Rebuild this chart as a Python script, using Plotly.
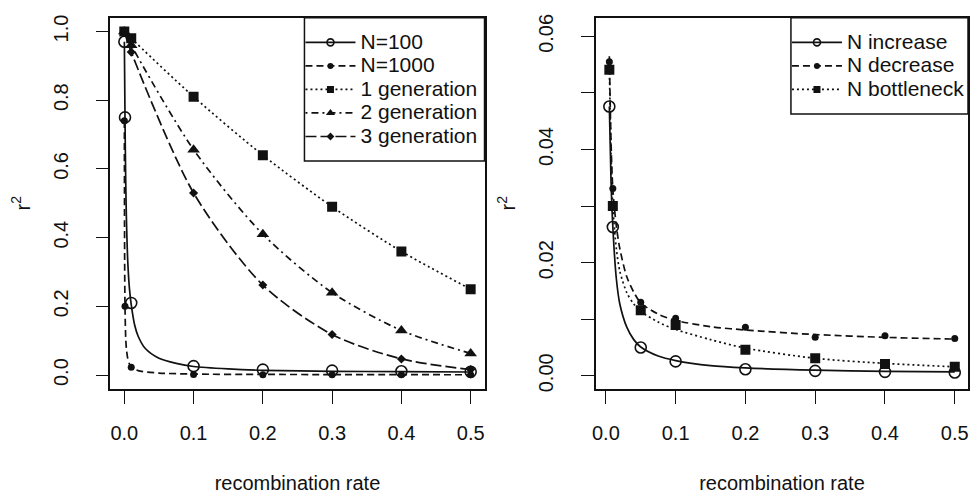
import plotly.graph_objects as go

# ---------------- left panel data ----------------
n_x = [0.0001, 0.001, 0.01, 0.1, 0.2, 0.3, 0.4, 0.5]
n100_y = [0.97, 0.75, 0.21, 0.026, 0.016, 0.013, 0.011, 0.0095]
n1000_y = [0.74, 0.20, 0.023, 0.002, 0.001, 0.001, 0.001, 0.001]

n100_curve_x = [0.0001, 0.001, 0.002, 0.003, 0.005, 0.0075, 0.01, 0.015, 0.02, 0.03,
                0.05, 0.075, 0.1, 0.15, 0.2, 0.3, 0.4, 0.5]
n100_curve_y = [0.97, 0.75, 0.57, 0.46, 0.33, 0.25, 0.205, 0.145, 0.113, 0.078,
                0.049, 0.034, 0.025, 0.018, 0.014, 0.011, 0.010, 0.009]
n1000_curve_x = [0.0001, 0.0005, 0.001, 0.002, 0.003, 0.005, 0.0075, 0.01, 0.02,
                 0.05, 0.1, 0.2, 0.3, 0.4, 0.5]
n1000_curve_y = [0.74, 0.33, 0.20, 0.11, 0.077, 0.048, 0.032, 0.024, 0.013,
                 0.006, 0.003, 0.002, 0.0015, 0.0012, 0.001]

gen_x = [0, 0.01, 0.1, 0.2, 0.3, 0.4, 0.5]
gen1_y = [1.0, 0.98, 0.81, 0.64, 0.49, 0.36, 0.25]
gen2_y = [1.0, 0.96, 0.656, 0.41, 0.24, 0.13, 0.063]
gen3_y = [1.0, 0.94, 0.53, 0.262, 0.118, 0.047, 0.016]

left_names = ["N=100", "N=1000", "1 generation", "2 generation", "3 generation"]
left_yticks = [0.0, 0.2, 0.4, 0.6, 0.8, 1.0]
x_ticks = [0.0, 0.1, 0.2, 0.3, 0.4, 0.5]

# ---------------- right panel data ----------------
r_x = [0.005, 0.01, 0.05, 0.1, 0.2, 0.3, 0.4, 0.5]
inc_y = [0.0476, 0.0263, 0.0050, 0.00255, 0.00116, 0.00087, 0.0007, 0.00058]
dec_y = [0.0555, 0.0331, 0.0130, 0.0102, 0.0086, 0.0068, 0.0071, 0.0066]
bot_y = [0.0541, 0.0300, 0.0116, 0.0090, 0.0046, 0.0031, 0.0021, 0.0016]

r_curve_x = [0.005, 0.0075, 0.01, 0.015, 0.02, 0.03, 0.04, 0.05, 0.075, 0.1,
             0.15, 0.2, 0.3, 0.4, 0.5]
inc_curve_y = [0.0476, 0.034, 0.0263, 0.0172, 0.0127, 0.0086, 0.0064, 0.0051, 0.0035, 0.0027,
               0.0018, 0.0014, 0.0010, 0.0008, 0.0007]
dec_curve_y = [0.0565, 0.041, 0.033, 0.0265, 0.0225, 0.0175, 0.0148, 0.0129, 0.0109, 0.0098,
               0.0087, 0.0081, 0.0073, 0.0068, 0.0065]
bot_curve_y = [0.0545, 0.039, 0.030, 0.0225, 0.0185, 0.0147, 0.0127, 0.0114, 0.0095, 0.0082,
               0.0064, 0.0049, 0.0031, 0.0022, 0.0016]

right_names = ["N increase", "N decrease", "N bottleneck"]
right_minor_dtick = 0.01

x_title = "recombination rate"
y_title = "r<sup>2</sup>"

# ---------------- styles ----------------
W, H = 973, 494


def px_x(p):
    return p / W


def px_y(p):
    return 1 - p / H


FONT = "Liberation Sans, Arial, Helvetica, sans-serif"
FS = 20
LEG_FS = 15.8
LW = 1.7
BLACK = "#111111"

DASH_SOLID = "solid"
DASH_DASHED = "7px,4px"
DASH_DOTTED = "2px,3px"
DASH_DOTDASH = "2px,4px,7px,4px"
DASH_LONG = "11px,4px"

MK_OPEN_CIRCLE = dict(symbol="circle-open", size=11, color=BLACK, line=dict(width=1.6, color=BLACK))
MK_DOT = dict(symbol="circle", size=7, color=BLACK)
MK_SQUARE = dict(symbol="square", size=10, color=BLACK)
MK_TRI = dict(symbol="triangle-up", size=11, color=BLACK)
MK_DIAMOND = dict(symbol="diamond", size=7, color=BLACK)

fig = go.Figure()


def add_series(name, xs, ys, cx, cy, dash, marker, xa, ya, legend, leg_size):
    # smooth curve
    fig.add_trace(go.Scatter(
        x=cx, y=cy, mode="lines", xaxis=xa, yaxis=ya,
        line=dict(color=BLACK, width=LW, dash=dash, shape="spline", smoothing=0.8),
        showlegend=False, hoverinfo="skip"))
    # observed points
    fig.add_trace(go.Scatter(
        x=xs, y=ys, mode="markers", xaxis=xa, yaxis=ya, name=name,
        marker=marker, showlegend=False))
    # legend entry
    lm = dict(marker)
    lm["size"] = leg_size
    fig.add_trace(go.Scatter(
        x=[None], y=[None], mode="lines+markers", xaxis=xa, yaxis=ya,
        name='<span style="font-size:21px">%s</span>' % name,
        line=dict(color=BLACK, width=LW, dash=dash), marker=lm,
        showlegend=True, legend=legend))


add_series(left_names[0], n_x, n100_y, n100_curve_x, n100_curve_y, DASH_SOLID, MK_OPEN_CIRCLE, "x", "y", "legend", 7)
add_series(left_names[1], n_x, n1000_y, n1000_curve_x, n1000_curve_y, DASH_DASHED, MK_DOT, "x", "y", "legend", 6)
add_series(left_names[2], gen_x, gen1_y, gen_x, gen1_y, DASH_DOTTED, MK_SQUARE, "x", "y", "legend", 7)
add_series(left_names[3], gen_x, gen2_y, gen_x, gen2_y, DASH_DOTDASH, MK_TRI, "x", "y", "legend", 8)
add_series(left_names[4], gen_x, gen3_y, gen_x, gen3_y, DASH_LONG, MK_DIAMOND, "x", "y", "legend", 6)

add_series(right_names[0], r_x, inc_y, r_curve_x, inc_curve_y, DASH_SOLID, MK_OPEN_CIRCLE, "x2", "y2", "legend2", 7)
add_series(right_names[1], r_x, dec_y, r_curve_x, dec_curve_y, DASH_DASHED, MK_DOT, "x2", "y2", "legend2", 6)
add_series(right_names[2], r_x, bot_y, r_curve_x, bot_curve_y, DASH_DOTTED, MK_SQUARE, "x2", "y2", "legend2", 7)

# ---------------- layout ----------------
top_px, bot_px = 15, 393
L1, R1 = 107, 483
L2, R2 = 595, 969
yd = [px_y(bot_px), px_y(top_px)]

axis_common = dict(
    showline=True, mirror=True, linecolor=BLACK, linewidth=1.5,
    showgrid=False, zeroline=False,
    ticks="outside", ticklen=13, tickwidth=1.3, tickcolor=BLACK,
    tickfont=dict(family=FONT, size=FS, color=BLACK), ticklabeloverflow="allow",
)
xtitle = dict(text=x_title, font=dict(family=FONT, size=FS, color=BLACK), standoff=36)
ytitle = dict(text=y_title, font=dict(family=FONT, size=FS, color=BLACK), standoff=14)

legend_common = dict(
    bgcolor="rgba(0,0,0,0)", borderwidth=0,
    font=dict(family=FONT, size=LEG_FS, color=BLACK), itemwidth=50,
    tracegroupgap=0, traceorder="normal", yanchor="top", xanchor="left",
)

# legend frames (R style boxes)
LEG1 = (302, 483, 15, 161)
LEG2 = (791, 969, 15, 113)
shapes = []
for (x0, x1, y0, y1) in (LEG1, LEG2):
    shapes.append(dict(type="rect", xref="paper", yref="paper",
                       x0=px_x(x0), x1=px_x(x1), y0=px_y(y1), y1=px_y(y0),
                       line=dict(color=BLACK, width=1.5), fillcolor="white", layer="above"))

fig.update_layout(
    width=W, height=H,
    margin=dict(l=0, r=0, t=0, b=0),
    paper_bgcolor="white", plot_bgcolor="white",
    font=dict(family=FONT, size=FS, color=BLACK),
    xaxis=dict(domain=[px_x(L1), px_x(R1)], range=[-0.02, 0.52],
               tickvals=x_ticks, tickformat=".1f", anchor="y", ticklabelstandoff=12,
               title=xtitle, **axis_common),
    yaxis=dict(domain=yd, range=[-0.04, 1.04], tickvals=left_yticks, tickformat=".1f",
               tickangle=-90, anchor="x", ticklabelstandoff=20, title=ytitle, **axis_common),
    xaxis2=dict(domain=[px_x(L2), px_x(R2)], range=[-0.0142, 0.519],
                tickvals=x_ticks, tickformat=".1f", anchor="y2", ticklabelstandoff=12,
                title=xtitle, **axis_common),
    yaxis2=dict(domain=yd, range=[-0.0023, 0.0633], tick0=0, dtick=0.02,
                tickformat=".2f", tickangle=-90, anchor="x2", ticklabelstandoff=20,
                minor=dict(dtick=right_minor_dtick, tick0=0, ticks="outside", ticklen=13,
                           tickwidth=1.3, tickcolor=BLACK, showgrid=False),
                title=ytitle, **axis_common),
    legend=dict(x=px_x(298), y=px_y(23), **legend_common),
    legend2=dict(x=px_x(787), y=px_y(23), **legend_common),
    shapes=shapes,
)

# remove the default page margin so the figure sits at the window's top-left corner
fig.write_html("out.html", config={"displayModeBar": False},
               post_script="document.body.style.margin='0px';document.body.style.overflow='hidden';")
